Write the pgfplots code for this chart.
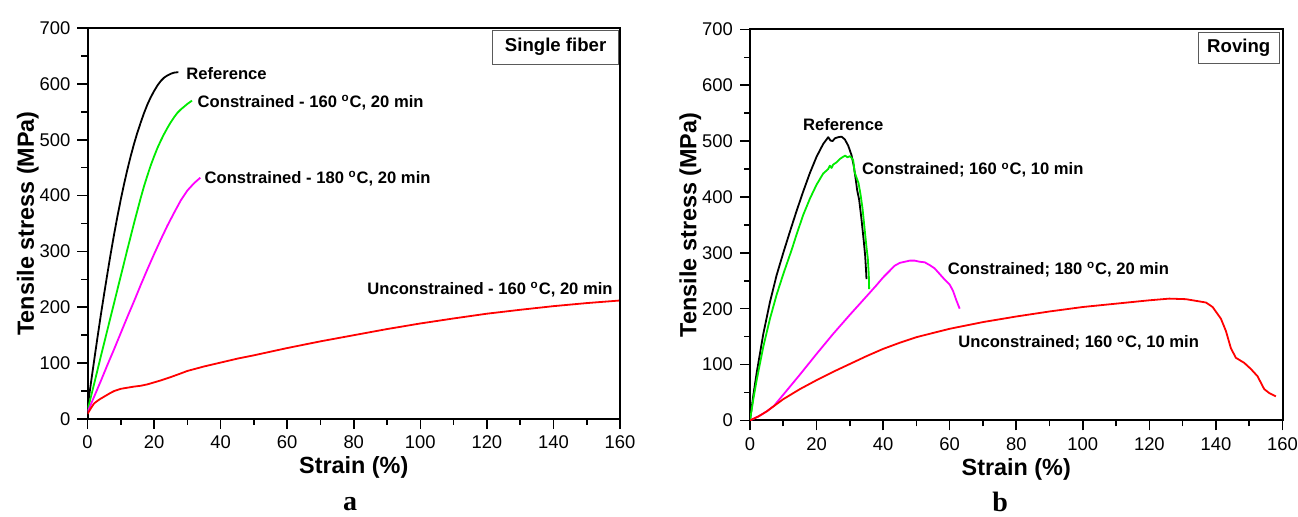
\documentclass[border=0pt]{standalone}
\usepackage{fontspec}
\setmainfont{Liberation Sans}
\newfontfamily\serifb{Liberation Serif}
\usepackage{pgfplots}
\pgfplotsset{compat=1.18}
\definecolor{cgreen}{RGB}{0,235,0}
\definecolor{cmag}{RGB}{255,0,255}
\definecolor{cred}{RGB}{255,0,0}
\definecolor{boxgray}{RGB}{90,90,90}
\pgfplotsset{
 myaxis/.style={
  scale only axis, width=266.25pt, height=195.5pt,
  xmin=0,xmax=160,ymin=0,ymax=700,
  xtick={0,20,...,160}, ytick={0,100,...,700},
  minor x tick num=1, minor y tick num=1,
  xtick pos=left, ytick pos=left,
  tick align=outside,
  major tick length=5pt, minor tick length=3pt,
  axis line style={line width=1pt},
  every tick/.style={black, line width=0.8pt},
  ticklabel style={font=\fontsize{9.2}{10}\selectfont},
  /pgf/number format/assume math mode=true,
  xlabel={Strain (\%)}, ylabel={Tensile stress (MPa)},
  every axis x label/.style={at={(axis description cs:0.5,-0.125)}, anchor=center, font=\fontsize{11.7}{14}\selectfont\bfseries},
  every axis y label/.style={at={(axis description cs:-0.112,0.5)}, rotate=90, anchor=center, font=\fontsize{11.7}{14}\selectfont\bfseries},
  clip mode=individual,
  every axis plot/.append style={line width=0.9pt, no marks, line join=round},
 },
}
\tikzset{
 lab/.style={font=\fontsize{8.3}{10}\selectfont\bfseries, inner sep=1pt},
 boxlab/.style={font=\fontsize{9.3}{11}\selectfont\bfseries, draw=boxgray, line width=0.6pt, inner sep=0pt},
 panel/.style={font=\serifb\fontsize{14}{16}\selectfont\bfseries, anchor=base, inner sep=0pt},
}
\begin{document}
\begin{tikzpicture}
\useasboundingbox (0,0) rectangle (649pt,258.5pt);
% ---------------- panel a ----------------
\begin{axis}[myaxis, at={(43.75pt,49pt)}, anchor=south west]
\addplot[black] coordinates {(0,20) (1,63) (2,105) (3,146) (4,186) (5,224) (6,261) (7,297) (8,331) (9,363) (10,393) (11,421) (12,447) (13,471) (14,493) (15,513) (16,531) (17,548) (18,563) (19,576) (20,587) (21,597) (22,605) (23,611) (24,615) (25,618) (26,620) (27.3,621)};
\addplot[cgreen] coordinates {(0,15) (2,63) (4,112) (6,160) (8,208) (10,256) (12,304) (14,351) (16,396) (17,417) (18,436) (19,454) (20,470) (21,485) (22,498) (23,510) (24,521) (25,531) (26,540) (27,548) (28,554) (29,559) (30,564) (31.4,570)};
\addplot[cmag] coordinates {(0,12) (2,40) (4,68) (6,97) (8,125) (10,154) (12,183) (14,211) (16,240) (18,268) (20,295) (22,321) (24,346) (26,369) (28,391) (30,409) (32,422) (33.9,432)};
\addplot[cred] coordinates {(0,9) (1,19) (2,28) (3,32.5) (4,36.5) (5,40) (6,43.5) (7,47) (8,50) (9,52) (10,54) (12,56) (14,58) (16,59.5) (18,62) (20,65.5) (22,69) (25,75) (28,81.5) (30,86) (35,94) (40,101) (45,108) (50,114) (60,127) (70,139) (80,150) (90,161) (100,171) (110,180) (120,188.5) (130,195.5) (140,202) (150,207.5) (159.7,212)};
\node[lab, anchor=west] at (axis cs:29,618) {Reference};
\node[lab, anchor=west] at (axis cs:32.4,567) {Constrained - 160 \textsuperscript{o}C, 20 min};
\node[lab, anchor=west] at (axis cs:34.5,430) {Constrained - 180 \textsuperscript{o}C, 20 min};
\node[lab, anchor=east] at (axis cs:158.5,232) {Unconstrained - 160 \textsuperscript{o}C, 20 min};
\node[boxlab, minimum width=62.75pt, minimum height=17pt] at (axis cs:140.65,665.7) {Single fiber};
\node[panel] at (axis description cs:0.493,-0.233) {a};
\end{axis}
% ---------------- panel b ----------------
\begin{axis}[myaxis, at={(375pt,48.3pt)}, anchor=south west]
\addplot[black] coordinates {(0,0) (1,45) (2,85) (4,155) (6,212) (8,260) (10,300) (12,338) (14,375) (16,410) (18,443) (20,472) (22,495) (23.5,507) (24.2,501) (24.8,500) (25.5,505) (26.5,507) (27.5,508) (28.5,503) (29.5,492) (30.5,475) (31.2,455) (31.8,430) (32.2,412) (32.8,395) (33.5,360) (34.2,320) (34.6,295) (34.9,265) (35,253)};
\addplot[cgreen] coordinates {(0,0) (1,38) (2,72) (4,132) (6,182) (8,225) (10,262) (12.5,305) (14,333) (16,368) (18,397) (20,422) (22,442) (23.5,450) (24,456) (24.5,452) (25,458) (26,462) (27,468) (28,472) (28.6,474) (29.3,471) (30,473) (30.5,470) (31,466) (31.4,445) (31.8,438) (32.6,425) (33.2,405) (33.8,380) (34.4,345) (35,310) (35.4,290) (35.7,260) (35.8,235)};
\addplot[cmag] coordinates {(0,0) (2.5,7) (5,16) (7.2,26) (10,46) (15,82) (20,119) (25,155) (30,189) (35,222) (38,242) (40,256) (42,268) (43.5,277) (45,282) (46.5,284) (48,286) (49.5,286) (51,284) (52.5,283) (54,278) (55.5,272) (57,262) (58.5,252) (60,243) (61,232) (62,215) (63,200)};
\addplot[cred] coordinates {(0,0) (2.5,7) (5,16) (7.5,27) (10,38) (15,56) (20,72) (25,87) (30,101) (35,115) (40,128) (45,139) (50,149) (60,164) (70,176) (80,186) (90,195) (100,203) (110,209) (120,215) (126,218) (131,217) (135,213) (137,211) (139,203) (141.5,182) (143,160) (144.5,129) (146,112) (148.5,103) (150.5,92) (152.5,79) (154.5,56) (156,49) (158,43)};
\node[lab, anchor=center] at (axis cs:28,529) {Reference};
\node[lab, anchor=west] at (axis cs:33,448) {Constrained; 160 \textsuperscript{o}C, 10 min};
\node[lab, anchor=west] at (axis cs:58.7,270) {Constrained; 180 \textsuperscript{o}C, 20 min};
\node[lab, anchor=west] at (axis cs:61.9,138.5) {Unconstrained; 160 \textsuperscript{o}C, 10 min};
\node[boxlab, minimum width=40.5pt, minimum height=15.5pt] at (axis cs:146.85,666.8) {Roving};
\node[panel] at (axis description cs:0.47,-0.233) {b};
\end{axis}
\end{tikzpicture}
\end{document}
